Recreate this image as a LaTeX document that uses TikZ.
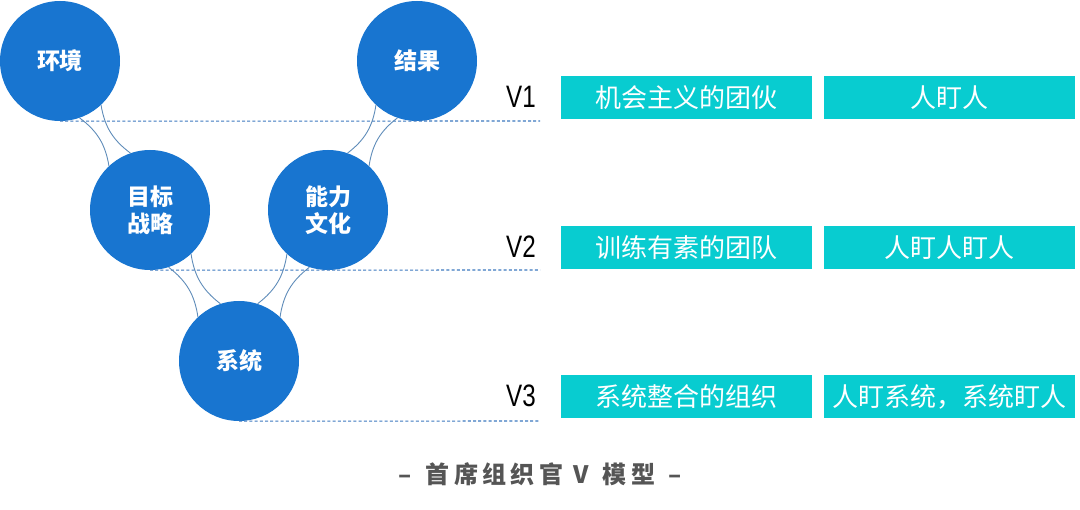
\documentclass[tikz,border=0pt]{standalone}
\usepackage{fontspec}
\setmainfont{Noto Sans CJK SC}
\newfontfamily\cjk{Noto Sans CJK SC}
\newfontfamily\capfont[LetterSpace=18]{Noto Sans CJK SC}
\newfontfamily\vfont[FakeStretch=0.78]{Liberation Sans}
\definecolor{cblue}{RGB}{24,117,208}
\definecolor{cteal}{RGB}{8,204,208}
\definecolor{clink}{RGB}{95,140,185}
\definecolor{cdash}{RGB}{60,120,190}
\definecolor{ccap}{RGB}{85,85,85}
\begin{document}
\begin{tikzpicture}[x=1pt,y=-1pt,
  ball/.style={circle,fill=cblue,minimum size=120pt,inner sep=0pt,text=white,
    font=\cjk\bfseries\fontsize{23}{27}\selectfont,align=center},
  lvl/.style={draw=cdash,line width=1.1pt,dash pattern=on 3pt off 2.2pt},
  neck/.style={draw=clink,line width=0.9pt},
  tag/.style={fill=cteal,minimum width=251pt,minimum height=43pt,inner sep=0pt,
    text=white,font=\cjk\fontsize{26}{30}\selectfont},
  vlab/.style={anchor=east,inner sep=0pt,font=\vfont\fontsize{31}{31}\selectfont}]
\useasboundingbox (0,0) rectangle (1080,510);

% circles
\node[ball] (hj) at (60,61) {环境};
\node[ball] (jg) at (417,61) {结果};
\node[ball] (mb) at (150,210) {目标\\战略};
\node[ball] (nl) at (328,210) {能力\\文化};
\node[ball] (xt) at (239,361) {系统};

% level lines
\coordinate (e1) at (540,121);
\coordinate (e2) at (540,270);
\coordinate (e3) at (540,421);
\draw[lvl] (hj.south) -- (e1);
\draw[lvl] (mb.south) -- (e2);
\draw[lvl] (xt.south) -- (e3);

% necks
\draw[neck] (hj.-71) to[bend left=22] (mb.133);
\draw[neck] (hj.-47) to[bend right=22] (mb.109);
\draw[neck] (jg.-133) to[bend left=22] (nl.71);
\draw[neck] (jg.-109) to[bend right=22] (nl.47);
\draw[neck] (mb.-72) to[bend left=22] (xt.133);
\draw[neck] (mb.-47) to[bend right=22] (xt.108);
\draw[neck] (nl.-133) to[bend left=22] (xt.72);
\draw[neck] (nl.-108) to[bend right=22] (xt.47);

% labels
\node[vlab] (v1) at (536,97) {V1};
\node[vlab] (v2) at (536,247) {V2};
\node[vlab] (v3) at (536,396) {V3};

% tags
\node[tag] (a1) at (686.5,98) {机会主义的团伙};
\node[tag] (b1) at (949.5,98) {人盯人};
\node[tag] (a2) at (686.5,247.5) {训练有素的团队};
\node[tag] (b2) at (949.5,247.5) {人盯人盯人};
\node[tag] (a3) at (686.5,396.5) {系统整合的组织};
\node[tag] (b3) at (949.5,396.5) {人盯系统，系统盯人};

% caption
\node[text=ccap,font=\capfont\bfseries\fontsize{24}{28}\selectfont] (cap) at (540,474)
  {–\hspace{14pt}首席组织官\hspace{10pt}V\hspace{14pt}模型\hspace{13pt}–};
\end{tikzpicture}
\end{document}
